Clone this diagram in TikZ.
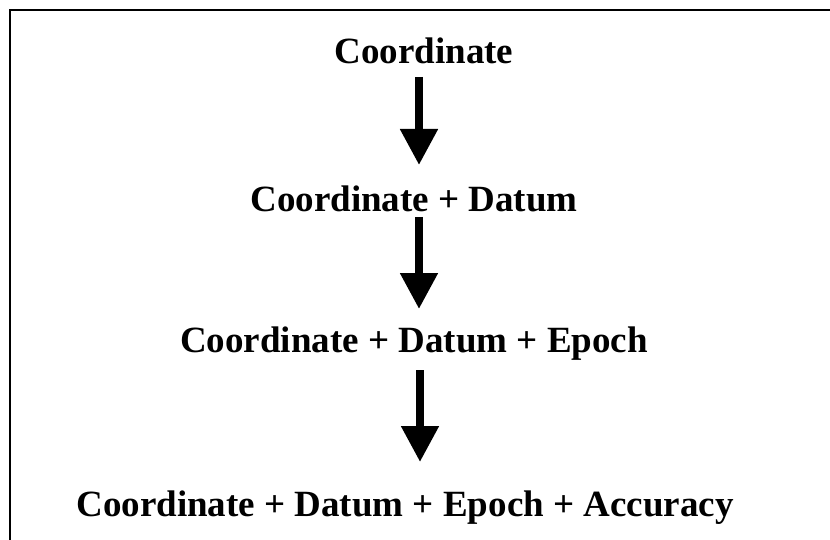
\documentclass[tikz,border=0pt]{standalone}
\usepackage{fontspec}
\setmainfont{Liberation Serif}
\usetikzlibrary{arrows.meta}
\tikzset{
  lbl/.style={anchor=base, inner sep=0pt, font=\fontsize{37}{44}\selectfont\bfseries},
  bigarrow/.style={line width=8pt, -{Triangle[width=36pt,length=36pt]}},
  frame/.style={line width=2pt}
}
\begin{document}
\begin{tikzpicture}[x=1pt,y=1pt]
\useasboundingbox (0,0) rectangle (830,-540);
\draw[frame] (10,-541) -- (10,-10) -- (831,-10);
\node[lbl] (t1) at (424,-64) {Coordinate};
\node[lbl] (t2) at (414,-212) {Coordinate + Datum};
\node[lbl] (t3) at (414,-352) {Coordinate + Datum + Epoch};
\node[lbl] (t4) at (405,-516) {Coordinate + Datum + Epoch + Accuracy};
\coordinate (a1s) at (419,-77);
\coordinate (a1e) at (419,-165);
\coordinate (a2s) at (419,-217);
\coordinate (a2e) at (419,-309);
\coordinate (a3s) at (420,-370);
\coordinate (a3e) at (420,-462);
\draw[bigarrow] (a1s) -- (a1e);
\draw[bigarrow] (a2s) -- (a2e);
\draw[bigarrow] (a3s) -- (a3e);
\end{tikzpicture}
\end{document}
